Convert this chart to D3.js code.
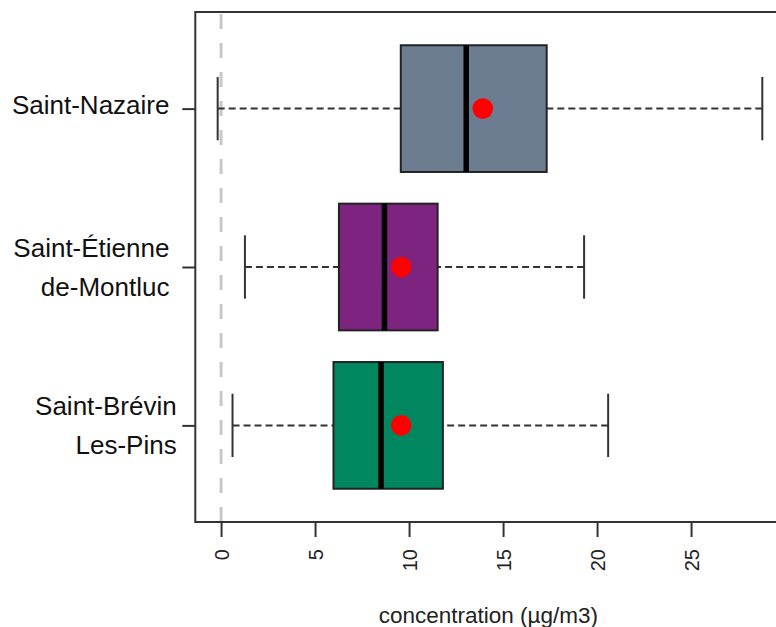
<!DOCTYPE html>
<html lang="fr">
<head>
  <meta charset="UTF-8">
  <title>Concentration par site</title>
  <script src="https://d3js.org/d3.v7.min.js"></script>
  <style>
    body {
      margin: 0;
      background: #fff;
      font-family: "Liberation Sans", Arial, sans-serif;
    }
    svg text {
      white-space: pre;
    }
  </style>
</head>
<body>
  <svg id="chart" width="776" height="627"></svg>

  <script>
    // Sites, bottom to top (position 1..3 on the y axis)
    const sites = ["Saint-Brévin Les-Pins", "Saint-Étienne de-Montluc", "Saint-Nazaire"];
    const siteLabels = [["Saint-Brévin", "Les-Pins"], ["Saint-Étienne ", "de-Montluc "], ["Saint-Nazaire "]];

    // Box statistics (µg/m3)
    const whiskerLow  = [0.61, 1.27, -0.18];
    const quart1      = [5.98, 6.27, 9.56];
    const medians     = [8.51, 8.69, 13.04];
    const quart3      = [11.80, 11.52, 17.32];
    const whiskerHigh = [20.59, 19.31, 28.79];
    const means       = [9.58, 9.58, 13.92];
    const boxColors   = ["#008760", "#7d2380", "#6c7d92"];

    const xTicks = [0, 5, 10, 15, 20, 25];
    const xTitle = "concentration (µg/m3)";

    const svg = d3.select("#chart");

    // plot region (right side of the frame falls just outside the picture)
    const plotL = 195.3, plotR = 781.3, plotT = 12, plotB = 522;

    const x = d3.scaleLinear().domain([-1.37, 29.8]).range([plotL, plotR]);
    const y = d3.scaleLinear().domain([0.39, 3.61]).range([plotB, plotT]);
    const unit = y(0) - y(1);
    const boxH = 0.8 * unit;
    const capH = 0.4 * unit;

    const rows = sites.map((s, i) => ({
      site: s, pos: i + 1, lines: siteLabels[i],
      lo: whiskerLow[i], q1: quart1[i], med: medians[i], q3: quart3[i],
      hi: whiskerHigh[i], mean: means[i], color: boxColors[i]
    }));

    // reference line at zero
    svg.append("line")
      .attr("x1", x(0)).attr("x2", x(0))
      .attr("y1", plotB).attr("y2", plotT)
      .attr("stroke", "#c8c8c8")
      .attr("stroke-width", 3)
      .attr("stroke-dasharray", "15,14");

    const g = svg.append("g").selectAll("g").data(rows).join("g");

    // whiskers
    g.append("line")
      .attr("x1", d => x(d.lo)).attr("x2", d => x(d.q1))
      .attr("y1", d => y(d.pos)).attr("y2", d => y(d.pos))
      .attr("stroke", "#333").attr("stroke-width", 2)
      .attr("stroke-dasharray", "7,4");
    g.append("line")
      .attr("x1", d => x(d.hi)).attr("x2", d => x(d.q3))
      .attr("y1", d => y(d.pos)).attr("y2", d => y(d.pos))
      .attr("stroke", "#333").attr("stroke-width", 2)
      .attr("stroke-dasharray", "7,4");

    // caps
    ["lo", "hi"].forEach(k => {
      g.append("line")
        .attr("x1", d => x(d[k])).attr("x2", d => x(d[k]))
        .attr("y1", d => y(d.pos) - capH / 2).attr("y2", d => y(d.pos) + capH / 2)
        .attr("stroke", "#333").attr("stroke-width", 2);
    });

    // boxes
    g.append("rect")
      .attr("x", d => x(d.q1))
      .attr("width", d => x(d.q3) - x(d.q1))
      .attr("y", d => y(d.pos) - boxH / 2)
      .attr("height", boxH)
      .attr("fill", d => d.color)
      .attr("stroke", "#222")
      .attr("stroke-width", 2);

    // medians
    g.append("line")
      .attr("x1", d => x(d.med)).attr("x2", d => x(d.med))
      .attr("y1", d => y(d.pos) - boxH / 2).attr("y2", d => y(d.pos) + boxH / 2)
      .attr("stroke", "#000").attr("stroke-width", 5.5);

    // means
    g.append("circle")
      .attr("cx", d => x(d.mean))
      .attr("cy", d => y(d.pos))
      .attr("r", 10.3)
      .attr("fill", "#ff0000");

    // frame
    svg.append("rect")
      .attr("x", plotL).attr("y", plotT)
      .attr("width", plotR - plotL).attr("height", plotB - plotT)
      .attr("fill", "none")
      .attr("stroke", "#333")
      .attr("stroke-width", 2);

    // bottom axis
    const xAxis = svg.append("g")
      .attr("transform", `translate(0,${plotB})`)
      .call(d3.axisBottom(x).tickValues(xTicks).tickSize(15).tickSizeOuter(0));
    xAxis.select(".domain").remove();
    xAxis.selectAll(".tick line").attr("stroke", "#333").attr("stroke-width", 2);
    xAxis.selectAll(".tick text")
      .attr("font-family", "'Liberation Sans', Arial, sans-serif")
      .attr("font-size", 20)
      .attr("fill", "#222")
      .attr("text-anchor", "end")
      .attr("transform", "translate(0,27) rotate(-90)")
      .attr("x", 0).attr("y", 0).attr("dy", "0.36em");

    // left axis: ticks only, labels drawn as several lines
    const yAxis = svg.append("g")
      .attr("transform", `translate(${plotL},0)`)
      .call(d3.axisLeft(y).tickValues(rows.map(d => d.pos)).tickSize(13).tickFormat(""));
    yAxis.select(".domain").remove();
    yAxis.selectAll(".tick line").attr("stroke", "#333").attr("stroke-width", 2);

    const lineGap = 39.2;
    svg.append("g").selectAll("text").data(rows).join("text")
      .attr("font-size", 26)
      .attr("fill", "#111")
      .attr("text-anchor", "end")
      .each(function(d) {
        const t = d3.select(this);
        const base = y(d.pos) + 5.7 - (d.lines.length - 1) * 16.2;
        d.lines.forEach((ln, j) => {
          t.append("tspan")
            .attr("x", 176.7)
            .attr("y", base + j * lineGap)
            .text(ln);
        });
      });

    // axis title
    svg.append("text")
      .attr("x", (plotL + plotR) / 2)
      .attr("y", 623)
      .attr("text-anchor", "middle")
      .attr("font-size", 22.5)
      .attr("fill", "#222")
      .text(xTitle);
  </script>
</body>
</html>
